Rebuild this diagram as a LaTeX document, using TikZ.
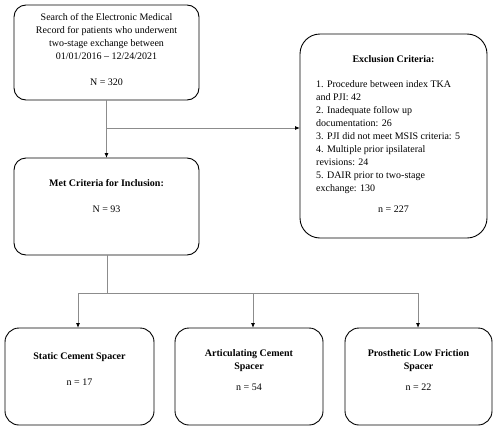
\documentclass[tikz,border=0pt]{standalone}
\usepackage{fontspec}
\setmainfont{Liberation Serif}
\usetikzlibrary{arrows.meta}
\begin{document}
\begin{tikzpicture}[x=1pt,y=-1pt,
  box/.style={draw=black,line width=0.9pt,rounded corners=#1,inner sep=0pt,outer sep=0pt},
  box/.default=12pt,
  txt/.style={inner sep=0pt,align=center,font=\fontsize{10}{13}\selectfont},
  conn/.style={draw={rgb,255:red,140;green,140;blue,140},line width=0.8pt},
  arr/.style={conn,-{Latex[length=5pt,width=4pt,color=black]}}
]
\useasboundingbox (0,0) rectangle (500,431);
% boxes
\node[box,minimum width=185pt,minimum height=95pt] (search) at (106.5,52.5) {};
\node[box=20pt,minimum width=187pt,minimum height=204pt] (excl) at (393.5,136) {};
\node[box,minimum width=185pt,minimum height=97pt] (met) at (106.5,206.5) {};
\node[box=14pt,minimum width=149pt,minimum height=97pt] (sA) at (79.5,376.5) {};
\node[box=14pt,minimum width=148pt,minimum height=97pt] (sB) at (249,376.5) {};
\node[box=14pt,minimum width=147pt,minimum height=97pt] (sC) at (418.5,376.5) {};
% texts
\node[txt,anchor=north] (t1) at (106.5,13) {Search of the Electronic Medical\\Record for patients who underwent\\two-stage exchange between\\01/01/2016 -- 12/24/2021\\[13pt]N = 320};
\node[txt,anchor=north] (t2) at (393.5,55) {\textbf{Exclusion Criteria:}};
\node[txt,anchor=north west,align=left] (t3) at (316,80) {1. Procedure between index TKA\\and PJI: 42\\2. Inadequate follow up\\documentation: 26\\3. PJI did not meet MSIS criteria: 5\\4. Multiple prior ipsilateral\\revisions: 24\\5. DAIR prior to two-stage\\exchange: 130};
\node[txt,anchor=north] (t4) at (393.5,206) {n = 227};
\node[txt,anchor=north] (t5) at (106.5,179) {\textbf{Met Criteria for Inclusion:}\\[13pt]N = 93};
\node[txt,anchor=north] (t6) at (79.5,352) {\textbf{Static Cement Spacer}\\[13pt]n = 17};
\node[txt,anchor=north] (t7) at (249,349) {\textbf{Articulating Cement}\\\textbf{Spacer}\\[8pt]n = 54};
\node[txt,anchor=north] (t8) at (418.5,349) {\textbf{Prosthetic Low Friction}\\\textbf{Spacer}\\[8pt]n = 22};
% connectors
\draw[arr] (search.south) -- (met.north);
\coordinate (j1) at (106.5,128);
\draw[arr] (j1) -- (j1 -| excl.west);
\coordinate (j2) at (107,293);
\draw[conn] (met.south -| j2) -- (j2);
\coordinate (hA) at (78,293);
\coordinate (hB) at (253,293);
\coordinate (hC) at (418,293);
\draw[conn] (hA) -- (hC);
\draw[arr] (hA) -- (hA |- sA.north);
\draw[arr] (hB) -- (hB |- sB.north);
\draw[arr] (hC) -- (hC |- sC.north);
\end{tikzpicture}
\end{document}
